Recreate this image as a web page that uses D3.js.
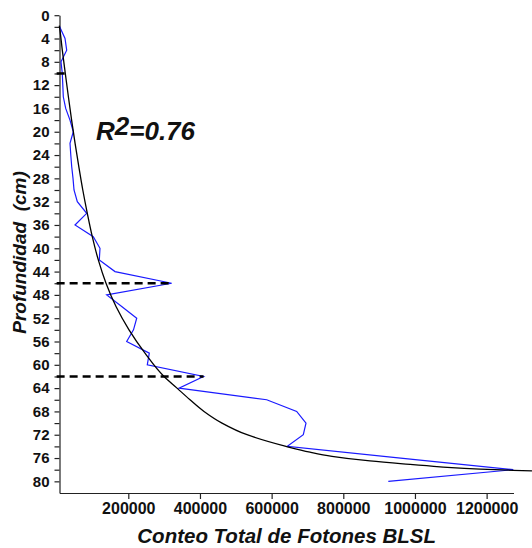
<!DOCTYPE html>
<html>
<head>
<meta charset="utf-8">
<script src="https://cdn.jsdelivr.net/npm/d3@7"></script>
<style>
  html, body { margin: 0; padding: 0; background: #fff; }
  svg { display: block; }
  text { font-family: "Liberation Sans", Arial, sans-serif; }
</style>
</head>
<body>
<svg id="chart" width="532" height="548"></svg>
<script>
// Depth profile (cm) and total BLSL photon counts
const depth = [2, 4, 6, 8, 10, 12, 14, 16, 18, 20, 22, 24, 26, 28, 30, 32, 34, 36, 38, 40,
               42, 44, 46, 48, 50, 52, 54, 56, 58, 60, 62, 64, 66, 68, 70, 72, 74, 76, 78, 80];
const photonCount = [8500, 23400, 28100, 12200, 15800, 17200, 18600, 25300, 37300, 46500,
                     37300, 39500, 42100, 45700, 48500, 57700, 83900, 51300, 102300, 121000,
                     119100, 162900, 321100, 139700, 181600, 223500, 214500, 195500, 258600, 253000,
                     410000, 341500, 586200, 669900, 695900, 688400, 643700, 960000, 1274400, 925600];

// Regression curve (R² = 0.76)
const fitDepth = [1.8, 2, 6, 10, 14, 18, 22, 26, 30, 34, 38, 42, 46, 50, 54, 58, 62, 64, 66, 68,
                  70, 72, 74, 75, 75.7, 76.5, 77, 77.5, 77.9, 78.1, 78.2];
const fitCount = [7500, 8000, 15800, 24200, 32800, 41800, 51500, 61900, 73000, 85600, 99500,
                  116300, 137800, 165700, 202000, 246600, 299700, 336000, 372200, 411300,
                  461500, 531300, 640100, 707100, 768500, 874500, 966600, 1069900, 1181500,
                  1273600, 1326600];

// Reference levels marked with dashed lines
const markerDepth = [10, 46, 62];
const markerCount = [26000, 321100, 410000];

// Axis ticks
const xTicks = [200000, 400000, 600000, 800000, 1000000, 1200000];
const yTicks = [0, 2, 4, 6, 8, 10, 12, 14, 16, 18, 20, 22, 24, 26, 28, 30, 32, 34, 36, 38, 40,
                42, 44, 46, 48, 50, 52, 54, 56, 58, 60, 62, 64, 66, 68, 70, 72, 74, 76, 78, 80];

const svg = d3.select("#chart");

const x = d3.scaleLinear().domain([8000, 1275000]).range([59.5, 513.5]);
const y = d3.scaleLinear().domain([0, 82]).range([15.2, 493]);

// Axes
const yAxis = d3.axisLeft(y)
  .tickValues(yTicks)
  .tickSize(5)
  .tickSizeOuter(0)
  .tickPadding(5)
  .tickFormat(d => d % 4 === 0 ? d : "");

const xAxis = d3.axisBottom(x)
  .tickValues(xTicks)
  .tickSize(6)
  .tickSizeOuter(0)
  .tickPadding(4)
  .tickFormat(d3.format("d"));

const gy = svg.append("g").attr("transform", "translate(59.5,0)").call(yAxis);
gy.selectAll("text").attr("font-size", 15).attr("font-weight", "bold").attr("fill", "#111")
  .style("font-family", "'Liberation Sans', Arial, sans-serif");

const gx = svg.append("g").attr("transform", "translate(0,493)").call(xAxis);
gx.selectAll("text").attr("font-size", 16).attr("font-weight", "bold").attr("fill", "#111")
  .style("font-family", "'Liberation Sans', Arial, sans-serif");

svg.selectAll(".domain, .tick line").attr("stroke", "#222").attr("stroke-width", 1.2);

// Measured profile
const profile = depth.map((d, i) => ({ d, v: photonCount[i] }));
svg.append("path")
  .datum(profile)
  .attr("fill", "none")
  .attr("stroke", "#1a1aff")
  .attr("stroke-width", 1.2)
  .attr("d", d3.line().x(p => x(p.v)).y(p => y(p.d)));

// Fitted curve
const fit = fitDepth.map((d, i) => ({ d, v: fitCount[i] }));
svg.append("path")
  .datum(fit)
  .attr("fill", "none")
  .attr("stroke", "#000")
  .attr("stroke-width", 1.3)
  .attr("d", d3.line().curve(d3.curveMonotoneY).x(p => x(p.v)).y(p => y(p.d)));

// Dashed reference levels from zero count to the marked value
svg.append("g").selectAll("line")
  .data(markerDepth.map((d, i) => ({ d, v: markerCount[i] })))
  .join("line")
  .attr("x1", x(0))
  .attr("x2", p => x(p.v))
  .attr("y1", p => y(p.d))
  .attr("y2", p => y(p.d))
  .attr("stroke", "#000")
  .attr("stroke-width", 2.5)
  .attr("stroke-dasharray", "8,5");

// Coefficient of determination
const r2 = svg.append("text")
  .attr("x", 96)
  .attr("y", 140)
  .attr("font-size", 26)
  .attr("font-weight", "bold")
  .attr("font-style", "italic")
  .attr("fill", "#111");
r2.append("tspan").text("R");
r2.append("tspan").attr("dy", -5).text("2");
r2.append("tspan").attr("dy", 5).text("=0.76");

// Axis titles
svg.append("text")
  .attr("x", 286.7)
  .attr("y", 543)
  .attr("text-anchor", "middle")
  .attr("font-size", 20.5)
  .attr("font-weight", "bold")
  .attr("font-style", "italic")
  .attr("fill", "#111")
  .text("Conteo Total de Fotones BLSL");

svg.append("text")
  .attr("transform", "translate(26,252.5) rotate(-90)")
  .attr("text-anchor", "middle")
  .attr("font-size", 19)
  .attr("font-weight", "bold")
  .attr("font-style", "italic")
  .attr("fill", "#111")
  .style("white-space", "pre")
  .text("Profundidad  (cm)");
</script>
</body>
</html>
